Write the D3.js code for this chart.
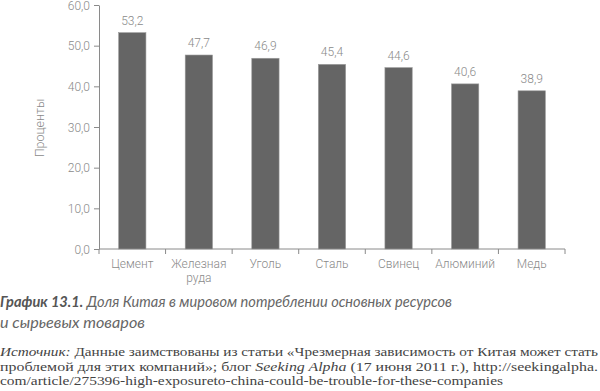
<!DOCTYPE html>
<html lang="ru">
<head>
<meta charset="UTF-8">
<title>График 13.1</title>
<script src="https://d3js.org/d3.v7.min.js"></script>
<style>
  body { margin: 0; background: #fff; }
  svg { display: block; }
  .axis text { font-family: Roboto, sans-serif; font-weight: 300; font-size: 12px; fill: #8a8a8a; }
  .axis path, .axis line { stroke: #8a8a8a; }
</style>
</head>
<body>
<svg width="600" height="391"></svg>
<script>
// data
const categories = ["Цемент", "Железная руда", "Уголь", "Сталь", "Свинец", "Алюминий", "Медь"];
const shares = [53.2, 47.7, 46.9, 45.4, 44.6, 40.6, 38.9];
const yTicks = [0, 10, 20, 30, 40, 50, 60];

const svg = d3.select("svg");
const fmt = v => d3.format(".1f")(v).replace(".", ",");

const x = d3.scaleBand().domain(categories).range([99, 565]).paddingInner(0.59).paddingOuter(0.295);
const y = d3.scaleLinear().domain([0, 60]).range([249, 5]);

// y axis
svg.append("g").attr("class", "axis")
    .attr("transform", "translate(99,0)")
    .call(d3.axisLeft(y).tickValues(yTicks).tickFormat(fmt).tickSize(5).tickSizeOuter(0).tickPadding(4))
    .selectAll(".tick text").attr("dy", "0.36em");

// x axis with ticks between bands
const xAxis = svg.append("g").attr("class", "axis")
    .attr("transform", "translate(0,249)");
xAxis.append("line").attr("x1", 99).attr("x2", 565).attr("stroke", "#8a8a8a");
xAxis.selectAll(".tk")
    .data(d3.range(categories.length + 1))
    .join("line")
    .attr("x1", i => 99 + i * x.step())
    .attr("x2", i => 99 + i * x.step())
    .attr("y1", 0).attr("y2", 5)
    .attr("stroke", "#8a8a8a");
xAxis.selectAll(".lbl")
    .data(categories)
    .join("text")
    .attr("text-anchor", "middle")
    .attr("y", 18.5)
    .each(function(d) {
        const words = d.split(" ");
        d3.select(this).selectAll("tspan").data(words).join("tspan")
            .attr("x", x(d) + x.bandwidth() / 2)
            .attr("dy", (w, i) => i === 0 ? 0 : 14.5)
            .text(w => w);
    });

// bars
svg.append("g").selectAll("rect")
    .data(categories)
    .join("rect")
    .attr("x", d => x(d))
    .attr("width", x.bandwidth())
    .attr("y", (d, i) => y(shares[i]))
    .attr("height", (d, i) => y(0) - y(shares[i]))
    .attr("fill", "#656565")
    .attr("stroke", "#9a9a9a")
    .attr("stroke-width", 0.6);

// value labels
svg.append("g").selectAll("text")
    .data(categories)
    .join("text")
    .attr("x", d => x(d) + x.bandwidth() / 2)
    .attr("y", (d, i) => y(shares[i]) - 8)
    .attr("text-anchor", "middle")
    .style("font-family", "Roboto, sans-serif")
    .style("font-weight", 300)
    .style("font-size", "12px")
    .style("fill", "#8a8a8a")
    .text((d, i) => fmt(shares[i]));

// y label
svg.append("text")
    .attr("transform", "translate(44,128) rotate(-90)")
    .attr("text-anchor", "middle")
    .style("font-family", "Roboto, sans-serif")
    .style("font-weight", 300)
    .style("font-size", "12.5px")
    .style("fill", "#8a8a8a")
    .text("Проценты");

// caption
const cap = svg.append("text")
    .attr("x", 0).attr("y", 307)
    .attr("textLength", 452)
    .attr("lengthAdjust", "spacingAndGlyphs")
    .style("font-family", "Lato, sans-serif")
    .style("font-style", "italic")
    .style("font-size", "15.5px")
    .style("fill", "#666");
cap.append("tspan").style("font-weight", 700).style("fill", "#555").text("График 13.1.");
cap.append("tspan").text(" Доля Китая в мировом потреблении основных ресурсов");
svg.append("text")
    .attr("x", 0).attr("y", 328)
    .attr("textLength", 145)
    .attr("lengthAdjust", "spacingAndGlyphs")
    .style("font-family", "Lato, sans-serif")
    .style("font-style", "italic")
    .style("font-size", "15.5px")
    .style("fill", "#666")
    .text("и сырьевых товаров");

// source
const srcLines = [
    [["Источник:", true], [" Данные заимствованы из статьи «Чрезмерная зависимость от Китая может стать", false]],
    [["проблемой для этих компаний»; блог ", false], ["Seeking Alpha", true], [" (17 июня 2011 г.), http://seekingalpha.", false]],
    [["com/article/275396-high-exposureto-china-could-be-trouble-for-these-companies", false]]
];
const srcWidths = [598, 598, 503];
srcLines.forEach((parts, i) => {
    const t = svg.append("text")
        .attr("x", 0).attr("y", 356 + i * 14.6)
        .attr("textLength", srcWidths[i])
        .attr("lengthAdjust", "spacingAndGlyphs")
        .style("font-family", "'Liberation Serif', serif")
        .style("font-size", "13.5px")
        .style("fill", "#444");
    parts.forEach(p => t.append("tspan").style("font-style", p[1] ? "italic" : "normal").text(p[0]));
});
</script>
</body>
</html>
